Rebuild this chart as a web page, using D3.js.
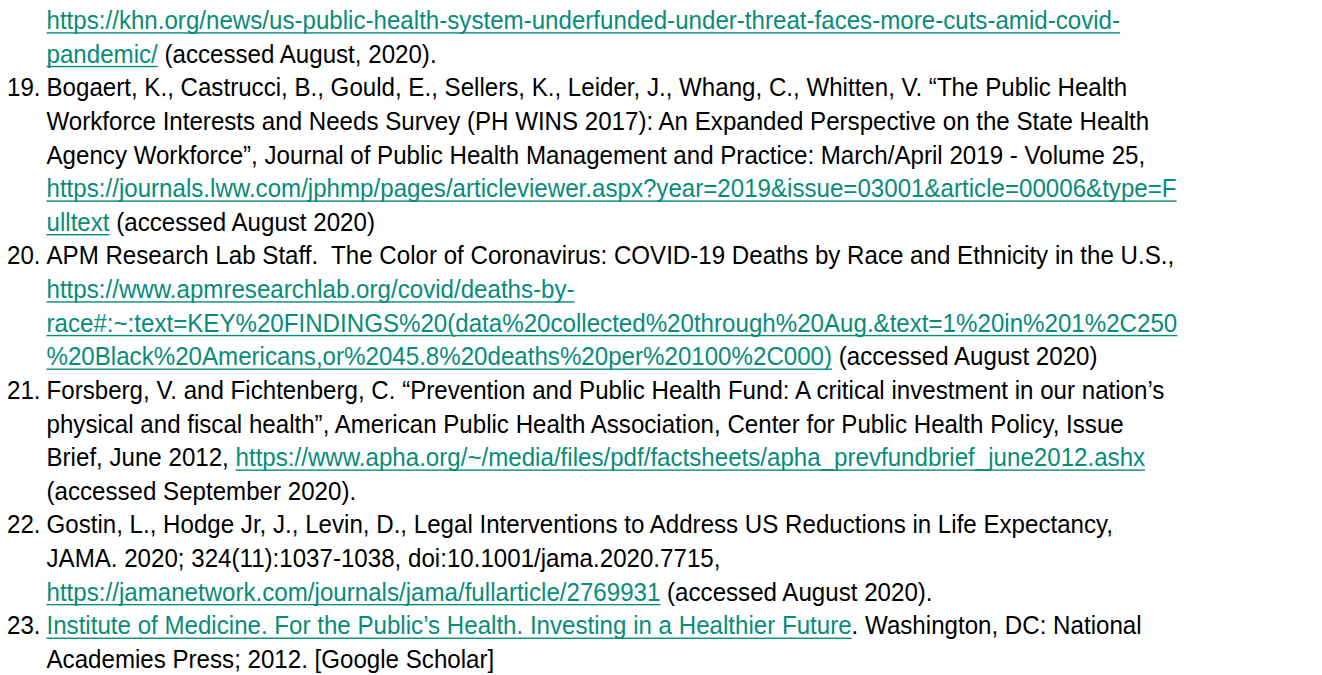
<!DOCTYPE html>
<html>
<head>
<meta charset="utf-8">
<script src="https://cdn.jsdelivr.net/npm/d3@7"></script>
<style>
  body { margin: 0; background: #fff; }
  text { font-family: "Liberation Sans", Arial, sans-serif; white-space: pre; }
</style>
</head>
<body>
<div id="page"></div>
<script>
// each row: [reference number or "", segments]; a segment is [text, isLink]
var rows = [
  ["", [["https://khn.org/news/us-public-health-system-underfunded-under-threat-faces-more-cuts-amid-covid-", 1]]],
  ["", [["pandemic/", 1], [" (accessed August, 2020).", 0]]],
  ["19.", [["Bogaert, K., Castrucci, B., Gould, E., Sellers, K., Leider, J., Whang, C., Whitten, V. \u201cThe Public Health", 0]]],
  ["", [["Workforce Interests and Needs Survey (PH WINS 2017): An Expanded Perspective on the State Health", 0]]],
  ["", [["Agency Workforce\u201d, Journal of Public Health Management and Practice: March/April 2019 - Volume 25,", 0]]],
  ["", [["https://journals.lww.com/jphmp/pages/articleviewer.aspx?year=2019&issue=03001&article=00006&type=F", 1]]],
  ["", [["ulltext", 1], [" (accessed August 2020)", 0]]],
  ["20.", [["APM Research Lab Staff.  The Color of Coronavirus: COVID-19 Deaths by Race and Ethnicity in the U.S.,", 0]]],
  ["", [["https://www.apmresearchlab.org/covid/deaths-by-", 1]]],
  ["", [["race#:~:text=KEY%20FINDINGS%20(data%20collected%20through%20Aug.&text=1%20in%201%2C250", 1]]],
  ["", [["%20Black%20Americans,or%2045.8%20deaths%20per%20100%2C000)", 1], [" (accessed August 2020)", 0]]],
  ["21.", [["Forsberg, V. and Fichtenberg, C. \u201cPrevention and Public Health Fund: A critical investment in our nation\u2019s", 0]]],
  ["", [["physical and fiscal health\u201d, American Public Health Association, Center for Public Health Policy, Issue", 0]]],
  ["", [["Brief, June 2012, ", 0], ["https://www.apha.org/~/media/files/pdf/factsheets/apha_prevfundbrief_june2012.ashx", 1]]],
  ["", [["(accessed September 2020).", 0]]],
  ["22.", [["Gostin, L., Hodge Jr, J., Levin, D., Legal Interventions to Address US Reductions in Life Expectancy,", 0]]],
  ["", [["JAMA. 2020; 324(11):1037-1038, doi:10.1001/jama.2020.7715,", 0]]],
  ["", [["https://jamanetwork.com/journals/jama/fullarticle/2769931", 1], [" (accessed August 2020).", 0]]],
  ["23.", [["Institute of Medicine. For the Public\u2019s Health. Investing in a Healthier Future", 1], [". Washington, DC: National", 0]]],
  ["", [["Academies Press; 2012. [Google Scholar]", 0]]]
];

var w = 1322, h = 675;
var fontSize = 25.5;
var sx = 0.946;         // horizontal squeeze of the scanned page
var numX = 7, bodyX = 46.5;
var linkColor = "#078c79";

var y = d3.scaleLinear()
    .domain([0, rows.length - 1])
    .range([29, 668]);

var svg = d3.select("#page")
    .append("svg")
    .attr("width", w)
    .attr("height", h);

svg.append("rect")
    .attr("width", w)
    .attr("height", h)
    .attr("fill", "#fff");

var lines = svg.selectAll("g.row")
    .data(rows)
    .enter()
    .append("g")
    .attr("class", "row")
    .attr("transform", function(d, i) { return "translate(0," + y(i) + ")"; });

lines.append("text")
    .attr("x", 0)
    .attr("transform", "translate(" + numX + ",0) scale(" + sx + ",1)")
    .attr("font-size", fontSize)
    .attr("fill", "#000")
    .text(function(d) { return d[0]; });

lines.each(function(d) {
    var g = d3.select(this).append("g")
        .attr("transform", "translate(" + bodyX + ",0) scale(" + sx + ",1)");
    var cx = 0;
    d[1].forEach(function(seg) {
        var t = g.append("text")
            .attr("x", cx)
            .attr("font-size", fontSize)
            .attr("fill", seg[1] ? linkColor : "#000")
            .text(seg[0]);
        var len = t.node().getComputedTextLength();
        if (seg[1]) {
            g.append("rect")
                .attr("x", cx)
                .attr("y", 3.2)
                .attr("width", len)
                .attr("height", 1.4)
                .attr("fill", linkColor);
        }
        cx += len;
    });
});
</script>
</body>
</html>
